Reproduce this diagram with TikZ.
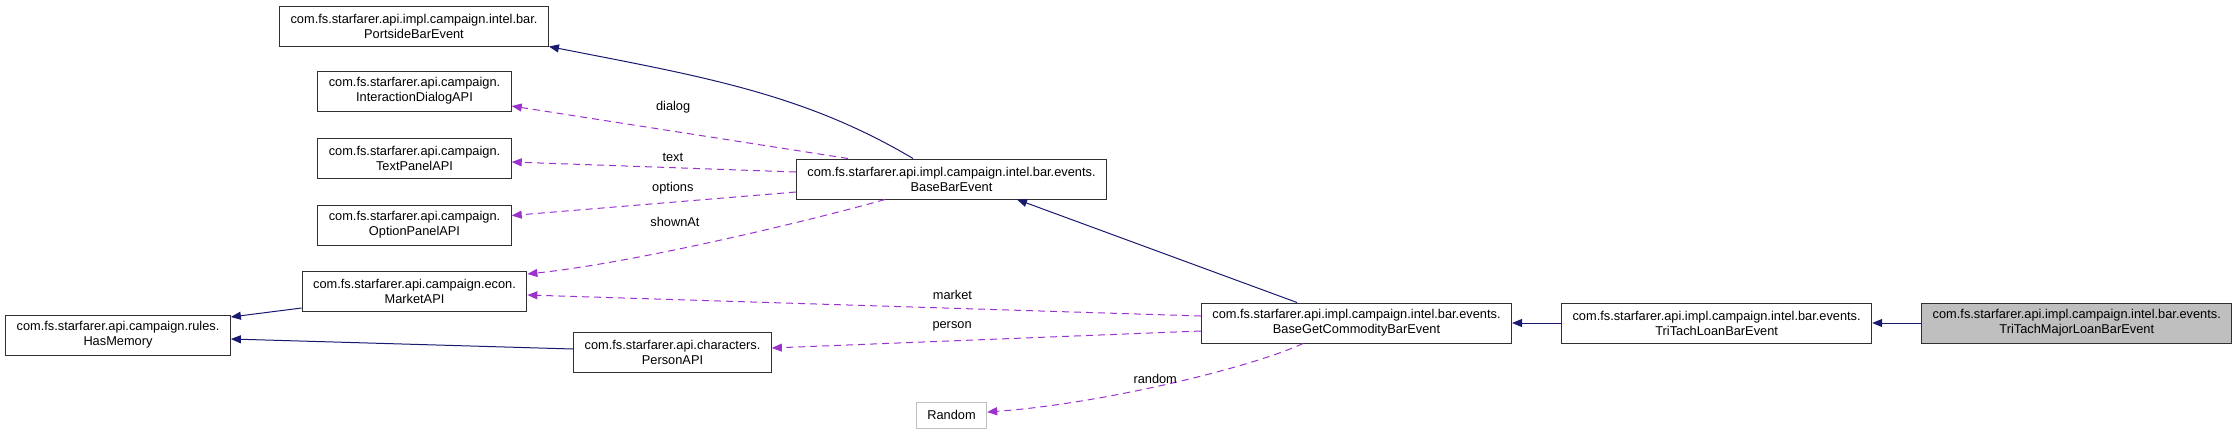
\documentclass[tikz,border=0pt]{standalone}
\usepackage{fontspec}
\setmainfont{Liberation Sans}
\usetikzlibrary{arrows.meta,positioning}
\definecolor{inheritblue}{HTML}{191970}
\definecolor{usagepurple}{HTML}{9A32CD}
\definecolor{boxgray}{HTML}{BFBFBF}
\definecolor{framegray}{HTML}{303030}
\tikzset{
  cls/.style={
    draw=framegray,
    line width=1pt,
    fill=white,
    minimum height=40pt,
    inner xsep=11pt,
    inner ysep=0pt,
    align=center,
    font=\fontsize{12.8}{15}\selectfont
  },
  clsmain/.style={cls, fill=boxgray},
  clsext/.style={cls, draw=boxgray, minimum height=26pt},
  inherit/.style={-{Triangle[length=10pt,width=8pt]}, line width=1pt, draw=inheritblue},
  uses/.style={-{Triangle[length=10pt,width=8pt]}, line width=1pt, dash pattern=on 7pt off 5pt, draw=usagepurple},
  elabel/.style={font=\fontsize{12.8}{15}\selectfont, inner sep=0pt}
}

\begin{document}
\begin{tikzpicture}[x=1pt, y=-1pt]
\useasboundingbox (0,0) rectangle (2237,434);

\node[cls] (portside) at (414,26) {com.fs.starfarer.api.impl.campaign.intel.bar.\\PortsideBarEvent};
\node[cls] (dialogapi) at (414.5,91) {com.fs.starfarer.api.campaign.\\InteractionDialogAPI};
\node[cls, below=26pt of dialogapi] (textpanel) {com.fs.starfarer.api.campaign.\\TextPanelAPI};
\node[cls, below=26pt of textpanel] (optionpanel) {com.fs.starfarer.api.campaign.\\OptionPanelAPI};
\node[cls] (marketapi) at (414.5,291) {com.fs.starfarer.api.campaign.econ.\\MarketAPI};
\node[cls] (hasmemory) at (118,335) {com.fs.starfarer.api.campaign.rules.\\HasMemory};
\node[cls] (personapi) at (672.5,352.5) {com.fs.starfarer.api.characters.\\PersonAPI};
\node[cls] (basebar) at (951.5,179) {com.fs.starfarer.api.impl.campaign.intel.bar.events.\\BaseBarEvent};
\node[cls] (commodity) at (1356.5,323) {com.fs.starfarer.api.impl.campaign.intel.bar.events.\\BaseGetCommodityBarEvent};
\node[cls, right=49pt of commodity] (loan) {com.fs.starfarer.api.impl.campaign.intel.bar.events.\\TriTachLoanBarEvent};
\node[clsmain, right=49pt of loan] (majorloan) {com.fs.starfarer.api.impl.campaign.intel.bar.events.\\TriTachMajorLoanBarEvent};
\node[clsext] (random) at (951.5,415) {Random};

% inheritance
\draw[inherit] ([xshift=-38.5pt]basebar.north) .. controls (803,93) and (699,76) .. (portside.south east);
\draw[inherit] ([xshift=-59.5pt]commodity.north) -- ([xshift=65.5pt]basebar.south);
\draw[inherit] (loan) -- (commodity);
\draw[inherit] (majorloan) -- (loan);
\draw[inherit] ([yshift=-17pt]marketapi.west) -- ([yshift=18pt]hasmemory.east);
\draw[inherit] ([yshift=3.5pt]personapi.west) -- ([yshift=-4pt]hasmemory.east);

% usage
\draw[uses] ([xshift=-103.5pt]basebar.north) -- node[elabel, pos=0.52, yshift=24.5pt] {dialog} ([yshift=-15pt]dialogapi.east);
\draw[uses] ([yshift=7pt]basebar.west) -- node[elabel, pos=0.433, yshift=10pt] {text} ([yshift=-4pt]textpanel.east);
\draw[uses] ([yshift=-13pt]basebar.west) -- node[elabel, pos=0.433, yshift=14pt] {options} ([yshift=9.5pt]optionpanel.east);
\draw[uses] ([xshift=-66.5pt]basebar.south) .. controls (820,218) and (640,262) .. node[elabel, pos=0.62, yshift=27.5pt] {shownAt} ([yshift=17pt]marketapi.east);
\draw[uses] ([yshift=7pt]commodity.west) -- node[elabel, pos=0.369, yshift=13pt] {market} ([yshift=-4pt]marketapi.east);
\draw[uses] ([yshift=-8pt]commodity.west) -- node[elabel, pos=0.58, yshift=14pt] {person} ([yshift=4.5pt]personapi.east);
\draw[uses] ([xshift=-53.5pt]commodity.south) .. controls (1250,368) and (1100,404) .. node[elabel, pos=0.535, yshift=7.5pt] {random} ([yshift=3pt]random.east);

\end{tikzpicture}
\end{document}
